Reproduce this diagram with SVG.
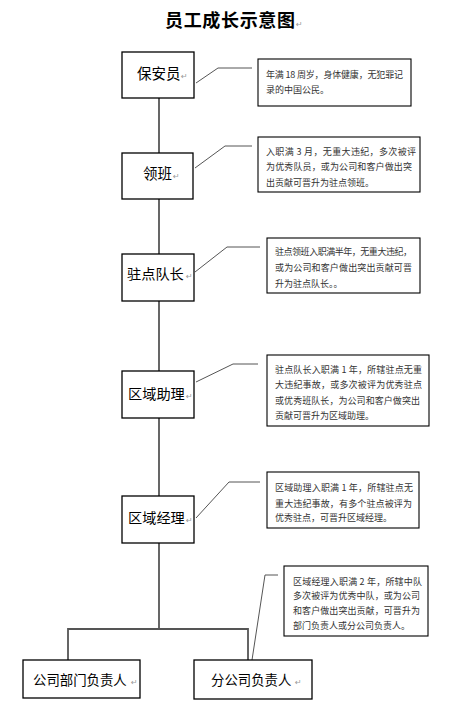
<svg xmlns="http://www.w3.org/2000/svg" width="461" height="719" viewBox="0 0 461 719">
<style>
.node{fill:#fff;stroke:#000;stroke-width:1.3}
.call{fill:#fff;stroke:#000;stroke-width:1.1}
.lbl{font-family:"Noto Sans CJK SC","Noto Sans CJK JP",sans-serif;font-size:14.5px;fill:#000}
.l4{font-size:14.2px}
.l7{font-size:13.4px}
.ct{font-family:"Noto Sans CJK SC","Noto Sans CJK JP",sans-serif;font-size:9px;fill:#333}
.rm{font-family:"DejaVu Sans",sans-serif;font-size:8px;fill:#999}
.line{stroke:#000;stroke-width:1.2;fill:none}
.lead{stroke:#555;stroke-width:1;fill:none}
</style>
<rect width="461" height="719" fill="#fff"/>
<text x="165" y="27" font-family="Noto Sans CJK SC,sans-serif" font-size="18" font-weight="bold" textLength="130" lengthAdjust="spacing">员工成长示意图</text>
<text class="rm" x="296" y="27">↵</text>

<g id="connectors">
<line class="line" x1="159" y1="98" x2="159" y2="153"/>
<line class="line" x1="159" y1="199" x2="159" y2="254"/>
<line class="line" x1="159" y1="301" x2="159" y2="371"/>
<line class="line" x1="159" y1="418" x2="159" y2="496"/>
<line class="line" x1="159" y1="543" x2="159" y2="629"/>
<polyline points="68,660 68,629 248,629 248,660" fill="none" stroke="#555" stroke-width="1.8"/>
<polyline class="lead" points="196,83 218,68 252,68"/>
<polyline class="lead" points="195,168 225,146 252,146"/>
<polyline class="lead" points="195,272 227,247 260,247"/>
<polyline class="lead" points="196,382 233,364 258,364"/>
<polyline class="lead" points="196,518 229,482 260,482"/>
<polyline class="lead" points="252,660 265,575 278,575"/>
</g>

<g id="n1">
<rect class="node" x="122" y="52" width="72" height="46"/>
<text class="lbl" x="137" y="79">保安员</text><text class="rm" x="181" y="79">↵</text>
</g>
<g id="n2">
<rect class="node" x="122" y="153" width="71" height="46"/>
<text class="lbl" x="143" y="179">领班</text><text class="rm" x="173" y="179">↵</text>
</g>
<g id="n3">
<rect class="node" x="122" y="254" width="72" height="47"/>
<text class="lbl l4" x="127" y="279">驻点队长</text><text class="rm" x="186" y="279">↵</text>
</g>
<g id="n4">
<rect class="node" x="122" y="371" width="72" height="47"/>
<text class="lbl l4" x="128" y="399">区域助理</text><text class="rm" x="186" y="399">↵</text>
</g>
<g id="n5">
<rect class="node" x="122" y="496" width="72" height="47"/>
<text class="lbl l4" x="128" y="523">区域经理</text><text class="rm" x="186" y="523">↵</text>
</g>
<g id="n6">
<rect class="node" x="23" y="660" width="117" height="38"/>
<text class="lbl l7" x="33" y="685">公司部门负责人</text><text class="rm" x="131" y="685">↵</text>
</g>
<g id="n7">
<rect class="node" x="194" y="660" width="118" height="39"/>
<text class="lbl l7" x="211" y="685">分公司负责人</text><text class="rm" x="295" y="685">↵</text>
</g>

<g id="c1">
<rect class="call" x="258" y="59" width="153" height="47"/>
<text class="ct" x="266" y="77.5" textLength="137" lengthAdjust="spacing">年满 18 周岁，身体健康，无犯罪记</text>
<text class="ct" x="266" y="92.5">录的中国公民。</text>
</g>
<g id="c2">
<rect class="call" x="258" y="137" width="162" height="55"/>
<text class="ct" x="266" y="154.5" textLength="150" lengthAdjust="spacing">入职满 3 月，无重大违纪，多次被评</text>
<text class="ct" x="266" y="169.5" textLength="146" lengthAdjust="spacing">为优秀队员，或为公司和客户做出突</text>
<text class="ct" x="266" y="185.5">出贡献可晋升为驻点领班。</text>
</g>
<g id="c3">
<rect class="call" x="267" y="238" width="153" height="55"/>
<text class="ct" x="275" y="254.5" textLength="137" lengthAdjust="spacing">驻点领班入职满半年，无重大违纪，</text>
<text class="ct" x="275" y="270.5" textLength="137" lengthAdjust="spacing">或为公司和客户做出突出贡献可晋</text>
<text class="ct" x="275" y="286.5">升为驻点队长。。</text>
</g>
<g id="c4">
<rect class="call" x="267" y="355" width="162" height="71"/>
<text class="ct" x="275" y="372.5" textLength="147" lengthAdjust="spacing">驻点队长入职满 1 年，所辖驻点无重</text>
<text class="ct" x="275" y="387.5" textLength="147" lengthAdjust="spacing">大违纪事故，或多次被评为优秀驻点</text>
<text class="ct" x="275" y="403.5" textLength="145" lengthAdjust="spacing">或优秀班队长，为公司和客户做突出</text>
<text class="ct" x="275" y="418.5">贡献可晋升为区域助理。</text>
</g>
<g id="c5">
<rect class="call" x="267" y="472" width="152" height="56"/>
<text class="ct" x="275" y="490.5" textLength="138" lengthAdjust="spacing">区域助理入职满 1 年，所辖驻点无</text>
<text class="ct" x="275" y="506.5" textLength="137" lengthAdjust="spacing">重大违纪事故，有多个驻点被评为</text>
<text class="ct" x="275" y="520.5">优秀驻点，可晋升区域经理。</text>
</g>
<g id="c6">
<rect class="call" x="284" y="566" width="144" height="70"/>
<text class="ct" x="293" y="584.5" textLength="129" lengthAdjust="spacing">区域经理入职满 2 年，所辖中队</text>
<text class="ct" x="293" y="598.5" textLength="127" lengthAdjust="spacing">多次被评为优秀中队，或为公司</text>
<text class="ct" x="293" y="613.5" textLength="127" lengthAdjust="spacing">和客户做出突出贡献，可晋升为</text>
<text class="ct" x="293" y="628.5">部门负责人或分公司负责人。</text>
</g>
</svg>
